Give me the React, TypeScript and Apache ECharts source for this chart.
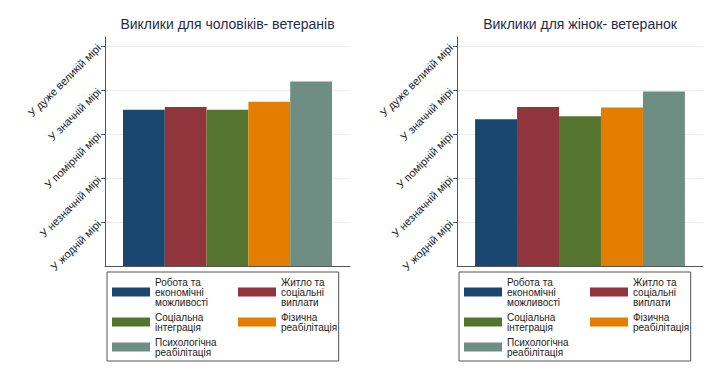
import React, { useEffect, useRef } from "react";
import * as echarts from "echarts";

const seriesNames = [
  "Робота та економічні можливості",
  "Житло та соціальні виплати",
  "Соціальна інтеграція",
  "Фізична реабілітація",
  "Психологічна реабілітація",
];
const legendLabels = [
  "Робота та\nекономічні\nможливості",
  "Житло та\nсоціальні\nвиплати",
  "Соціальна\nінтеграція",
  "Фізична\nреабілітація",
  "Психологічна\nреабілітація",
];
const colors = ["#1a476f", "#90353b", "#55752f", "#e37e00", "#6e8e84"];
const menValues = [3.55, 3.61, 3.55, 3.73, 4.19];
const womenValues = [3.33, 3.61, 3.4, 3.6, 3.96];
const yTickValues = [1, 2, 3, 4, 5];
const yTickLabels = [
  "У жодній мірі",
  "У незначній мірі",
  "У помірній мірі",
  "У значній мірі",
  "У дуже великій мірі",
];
const panelTitles = ["Виклики для чоловіків- ветеранів", "Виклики для жінок- ветеранок"];

const FONT = '"Liberation Sans", sans-serif';

export default function App() {
  const ref = useRef<HTMLDivElement>(null);
  useEffect(() => {
    if (!ref.current) return;
    const chart = echarts.init(ref.current, null, { renderer: "svg" });
    const grids = [
      { left: 105, right: 370, top: 37, bottom: 118 },
      { left: 457, right: 17, top: 37, bottom: 118 },
    ];
    const titleX = [227.5, 580];
    const legendShift = [0, 352];
    const labelMap: Record<string, string> = {};
    seriesNames.forEach((n, i) => (labelMap[n] = legendLabels[i]));

    const yAxes = grids.map((_, gi) => ({
      type: "value",
      gridIndex: gi,
      min: 0,
      max: 5.2,
      interval: 1,
      axisLine: { show: true, lineStyle: { color: "#555", width: 1 } },
      axisTick: { show: true, length: 4, lineStyle: { color: "#555" }, customValues: yTickValues },
      axisLabel: {
        customValues: yTickValues,
        rotate: 45,
        margin: 6,
        fontSize: 11,
        fontFamily: FONT,
        color: "#222",
        formatter: (v: number) => {
          const idx = yTickValues.indexOf(Math.round(v * 100) / 100);
          return idx >= 0 ? yTickLabels[idx] : "";
        },
      },
      splitLine: { show: true, lineStyle: { color: "#eceff2", width: 1 } },
    }));
    const xAxes = grids.map((_, gi) => ({
      type: "category",
      gridIndex: gi,
      data: [""],
      axisLine: { show: true, lineStyle: { color: "#555", width: 1 } },
      axisTick: { show: false },
      axisLabel: { show: false },
    }));
    const series: any[] = [];
    [menValues, womenValues].forEach((vals, gi) => {
      vals.forEach((v, i) => {
        series.push({
          type: "bar",
          name: seriesNames[i],
          xAxisIndex: gi,
          yAxisIndex: gi,
          data: [v],
          barGap: "0%",
          barCategoryGap: "14.7%",
          itemStyle: { color: colors[i] },
        });
      });
    });
    const legends: any[] = [];
    legendShift.forEach((dx) => {
      const common = {
        orient: "vertical",
        icon: "rect",
        itemWidth: 38,
        itemHeight: 9,
        itemGap: 5,
        selectedMode: false,
        formatter: (n: string) => labelMap[n] || n,
        textStyle: { fontSize: 10, lineHeight: 10, color: "#222", fontFamily: FONT },
      };
      legends.push({
        ...common,
        left: 107 + dx,
        top: 272,
        padding: [5, 122, 4, 5],
        borderColor: "#555",
        borderWidth: 1,
        data: [seriesNames[0], seriesNames[2], seriesNames[4]],
      });
      legends.push({
        ...common,
        left: 238 + dx,
        top: 277,
        padding: 0,
        data: [seriesNames[1], seriesNames[3]],
      });
    });
    chart.setOption({
      animation: false,
      backgroundColor: "#fff",
      title: panelTitles.map((t, i) => ({
        text: t,
        left: titleX[i],
        top: 17,
        padding: 0,
        textAlign: "center",
        textStyle: { fontSize: 14, fontWeight: "normal", color: "#1e2d4f", fontFamily: FONT },
      })),
      grid: grids,
      xAxis: xAxes,
      yAxis: yAxes,
      legend: legends,
      series,
    });
    return () => chart.dispose();
  }, []);
  return (
    <div
      ref={ref}
      style={{ position: "fixed", left: 0, top: 0, width: 720, height: 384, background: "#fff" }}
    />
  );
}
